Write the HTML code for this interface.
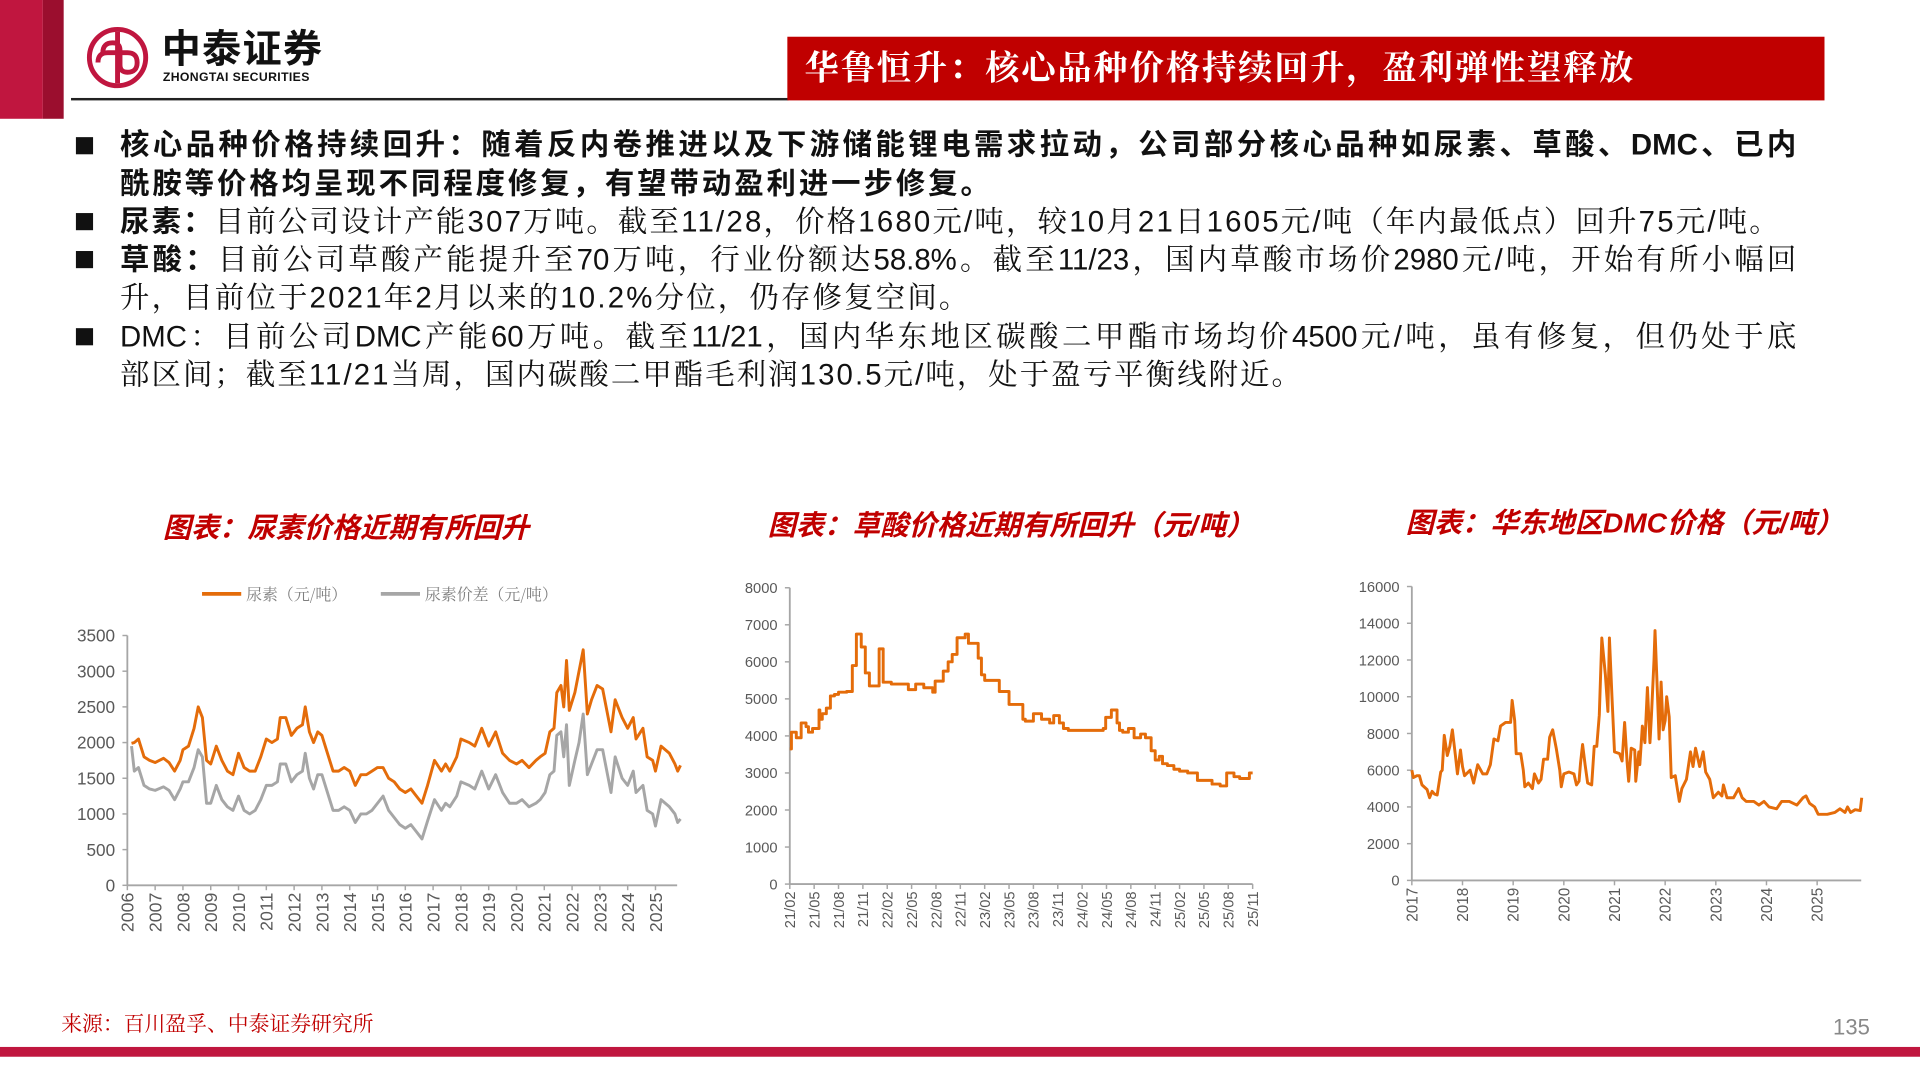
<!DOCTYPE html>
<html><head><meta charset="utf-8">
<style>
html,body{margin:0;padding:0;background:#fff;width:1920px;height:1080px;overflow:hidden}
#wrap{position:absolute;left:0;top:0;width:1568px;height:882px;transform:scale(1.22449);transform-origin:0 0;font-family:"Liberation Sans","Noto Sans CJK SC",sans-serif}
.abs{position:absolute}
.line{position:absolute;left:98px;width:1369px;font-size:24px;line-height:30px;white-space:nowrap;color:#111;font-family:"Liberation Sans","Noto Serif CJK SC",serif}
.j{text-align:justify;text-align-last:justify}
.b{font-family:"Liberation Sans","Noto Sans CJK SC",sans-serif;font-weight:bold}
.sq{position:absolute;left:62px;width:14px;height:14px;background:#111}
.ct{position:absolute;color:#c00000;font-weight:bold;font-style:italic;font-size:23px;white-space:nowrap;font-family:"Liberation Sans","Noto Sans CJK SC",sans-serif}
</style></head><body>
<div id="wrap">
<div class="abs" style="left:0;top:0;width:35px;height:97px;background:#c0163f"></div>
<div class="abs" style="left:35px;top:0;width:17px;height:97px;background:#9b0e2e"></div>
<svg class="abs" style="left:70px;top:21px" width="52" height="52" viewBox="0 0 52 52">
<circle cx="26" cy="26" r="23" fill="none" stroke="#c0163f" stroke-width="4"/>
<path d="M26 5 V47 M14 22 q0 -8 8 -8 q6 0 6 6 v12 q0 6 6 6 q8 0 8 -8 q0 -8 -8 -8 h-16 q-8 0 -8 8" fill="none" stroke="#c0163f" stroke-width="4"/>
</svg>
<div class="abs" style="left:132px;top:19px;font-size:32px;line-height:38px;font-weight:bold;color:#111;font-family:'Noto Sans CJK SC',sans-serif;letter-spacing:1px">中泰证券</div>
<div class="abs" style="left:133px;top:58px;font-size:10px;line-height:11px;font-weight:bold;color:#111;letter-spacing:0.3px">ZHONGTAI SECURITIES</div>
<div class="abs" style="left:58px;top:80px;width:586px;height:2px;background:#222"></div>
<div class="abs" style="left:643px;top:30px;width:847px;height:52px;background:#c00000;color:#fff;font-size:28px;font-weight:bold;line-height:52px;padding-left:14px;box-sizing:border-box;white-space:nowrap;font-family:'Liberation Sans','Noto Serif CJK SC',serif;letter-spacing:1.5px">华鲁恒升：核心品种价格持续回升，盈利弹性望释放</div>

<div class="sq" style="top:112px"></div>
<div class="line j b" style="top:104px">核心品种价格持续回升：随着反内卷推进以及下游储能锂电需求拉动，公司部分核心品种如尿素、草酸、DMC、已内</div>
<div class="line b" style="top:136px;letter-spacing:2.4px">酰胺等价格均呈现不同程度修复，有望带动盈利进一步修复。</div>
<div class="sq" style="top:174px"></div>
<div class="line" style="top:167px;letter-spacing:1.8px"><span class="b">尿素：</span>目前公司设计产能307万吨。截至11/28，价格1680元/吨，较10月21日1605元/吨（年内最低点）回升75元/吨。</div>
<div class="sq" style="top:205px"></div>
<div class="line j" style="top:198px"><span class="b">草酸：</span>目前公司草酸产能提升至70万吨，行业份额达58.8%。截至11/23，国内草酸市场价2980元/吨，开始有所小幅回</div>
<div class="line" style="top:229px;letter-spacing:1.8px">升，目前位于2021年2月以来的10.2%分位，仍存修复空间。</div>
<div class="sq" style="top:268px"></div>
<div class="line j" style="top:261px">DMC：目前公司DMC产能60万吨。截至11/21，国内华东地区碳酸二甲酯市场均价4500元/吨，虽有修复，但仍处于底</div>
<div class="line" style="top:292px;letter-spacing:1.7px">部区间；截至11/21当周，国内碳酸二甲酯毛利润130.5元/吨，处于盈亏平衡线附近。</div>

<div class="ct" style="left:133px;top:412px">图表：尿素价格近期有所回升</div>
<div class="ct" style="left:627px;top:410px">图表：草酸价格近期有所回升（元/吨）</div>
<div class="ct" style="left:1148px;top:408px">图表：华东地区DMC价格（元/吨）</div>

<svg id="charts" class="abs" style="left:0;top:0" width="1568" height="882"></svg>

<div class="abs" style="left:50px;top:822px;font-size:17px;color:#c00000;font-family:'Liberation Sans','Noto Serif CJK SC',serif">来源：百川盈孚、中泰证券研究所</div>
<div class="abs" style="left:1497px;top:829px;font-size:18px;color:#888">135</div>
<div class="abs" style="left:0;top:855px;width:1568px;height:8px;background:#c0163f"></div>
</div>
<script>
// Chart 1: urea
const ureaT=[2006.15,2006.25,2006.4,2006.6,2006.8,2007.0,2007.3,2007.5,2007.7,2007.9,2008.0,2008.2,2008.4,2008.55,2008.7,2008.85,2009.0,2009.2,2009.4,2009.6,2009.8,2010.0,2010.2,2010.4,2010.6,2010.8,2011.0,2011.2,2011.4,2011.5,2011.7,2011.9,2012.1,2012.3,2012.4,2012.55,2012.7,2012.85,2013.0,2013.2,2013.4,2013.6,2013.8,2014.0,2014.2,2014.4,2014.6,2014.8,2015.0,2015.2,2015.4,2015.6,2015.8,2016.0,2016.2,2016.4,2016.6,2016.8,2017.05,2017.3,2017.45,2017.6,2017.85,2018.0,2018.3,2018.5,2018.75,2019.0,2019.25,2019.5,2019.75,2020.0,2020.2,2020.45,2020.7,2020.85,2021.03,2021.2,2021.35,2021.45,2021.6,2021.7,2021.8,2021.9,2022.1,2022.25,2022.4,2022.55,2022.7,2022.9,2023.1,2023.4,2023.55,2023.8,2024.0,2024.2,2024.3,2024.55,2024.7,2024.9,2025.0,2025.2,2025.5,2025.7,2025.8,2025.9];
const ureaPrice=[1990,2000,2050,1800,1750,1720,1780,1720,1600,1750,1900,1950,2200,2500,2350,1750,1700,1950,1750,1600,1550,1850,1650,1600,1600,1800,2050,2000,2050,2350,2350,2100,2200,2250,2500,2150,2000,2150,2100,1850,1600,1600,1650,1600,1400,1550,1550,1600,1650,1650,1500,1450,1350,1300,1350,1250,1150,1400,1750,1600,1700,1600,1800,2050,2000,1950,2200,1950,2150,1850,1750,1700,1750,1650,1750,1800,1850,2150,2200,2700,2800,2500,3150,2450,2700,3000,3300,2400,2600,2800,2750,2150,2600,2350,2200,2350,2050,2200,1800,1750,1600,1950,1850,1700,1600,1680];
const ureaSpread=[1950,1600,1650,1400,1350,1330,1380,1330,1200,1350,1450,1450,1650,1900,1800,1150,1150,1400,1200,1100,1050,1250,1050,1000,1050,1200,1400,1400,1450,1700,1700,1450,1550,1600,1850,1500,1350,1550,1550,1300,1050,1050,1100,1050,880,1000,1000,1050,1150,1250,1050,950,850,800,850,750,650,900,1200,1050,1150,1100,1250,1450,1400,1350,1600,1350,1550,1300,1150,1150,1200,1100,1150,1200,1300,1550,1600,2100,2150,1800,2250,1400,1750,2000,2400,1550,1700,1900,1900,1300,1800,1500,1400,1600,1300,1400,1050,1000,830,1200,1100,1000,880,930];
const ureaYTicks=[0,500,1000,1500,2000,2500,3000,3500];
const ureaXLabels=["2006","2007","2008","2009","2010","2011","2012","2013","2014","2015","2016","2017","2018","2019","2020","2021","2022","2023","2024","2025"];
// Chart 2: oxalic acid (months since 2021/02), step line
const oxM=[0,0.2,0.8,1.4,2,2.3,2.8,3.6,3.7,4,4.5,5,5.5,6,7,7.7,8.2,8.8,9.3,9.8,11,11.5,12.5,14.6,15.5,16.5,17.6,17.9,18.9,19.5,20,20.6,21.6,22,23.2,23.6,24,25.8,27,28.7,29,30,31,32,32.5,33.2,33.7,34.3,38.6,38.9,39.6,40.3,40.6,41,41.7,42.4,43.2,43.8,44.5,45,45.5,45.9,46.5,47.3,48,49,50.2,52,53,53.8,54.7,55.4,56.6,57];
const oxPrice=[3650,4100,3950,4350,4250,4100,4200,4700,4450,4600,4750,5080,5120,5180,5200,5900,6750,6400,5700,5350,6350,5450,5400,5250,5400,5300,5180,5480,5750,6000,6200,6650,6750,6500,6100,5650,5500,5200,4850,4450,4400,4600,4450,4350,4550,4350,4200,4150,4200,4500,4700,4350,4150,4100,4200,3950,4050,3950,3600,3350,3450,3250,3200,3100,3050,3000,2800,2700,2650,3000,2900,2850,3000,3000];
const oxYTicks=[0,1000,2000,3000,4000,5000,6000,7000,8000];
const oxXLabels=["21/02","21/05","21/08","21/11","22/02","22/05","22/08","22/11","23/02","23/05","23/08","23/11","24/02","24/05","24/08","24/11","25/02","25/05","25/08","25/11"];
// Chart 3: DMC (years since 2017)
const dmcT=[0,0.03,0.1,0.15,0.2,0.3,0.35,0.4,0.45,0.5,0.57,0.6,0.64,0.7,0.75,0.8,0.86,0.9,0.96,1.0,1.04,1.15,1.22,1.3,1.4,1.48,1.55,1.62,1.7,1.75,1.85,1.95,1.98,2.03,2.06,2.15,2.2,2.23,2.3,2.38,2.42,2.5,2.55,2.6,2.68,2.72,2.78,2.85,2.92,2.95,3.0,3.1,3.2,3.25,3.3,3.33,3.37,3.42,3.47,3.55,3.6,3.65,3.7,3.75,3.82,3.87,3.9,3.95,4.0,4.1,4.15,4.2,4.25,4.28,4.33,4.4,4.42,4.48,4.5,4.55,4.6,4.65,4.7,4.73,4.78,4.8,4.85,4.88,4.92,4.96,5.0,5.03,5.08,5.12,5.2,5.28,5.33,5.42,5.5,5.55,5.6,5.68,5.75,5.8,5.88,5.95,6.05,6.12,6.15,6.22,6.35,6.45,6.52,6.6,6.75,6.85,6.95,7.05,7.2,7.3,7.45,7.6,7.72,7.78,7.85,7.95,8.02,8.2,8.35,8.45,8.55,8.6,8.66,8.75,8.85,8.88];
const dmcPrice=[6000,5600,5700,5700,5200,4950,4500,4850,4700,4650,5900,6000,7900,6800,7300,8200,6800,5800,7100,6200,5700,6000,5300,6300,5800,5800,6300,7700,7600,8400,8600,8600,9800,8700,6900,6900,6000,5100,5300,5000,5800,5300,5500,6600,6600,7800,8200,7200,6000,5100,5800,5900,5800,5200,5400,6400,7400,6300,5300,5200,7300,7300,9000,13200,11200,9200,13200,10000,7000,6900,6500,8600,6400,5400,7200,7100,5400,7000,6300,8400,7500,10500,7500,9000,12000,13600,10000,7700,10800,8200,8700,10000,8900,5600,5700,4300,5000,5500,7000,6200,7200,6200,7000,5900,5500,4500,4800,4600,5200,4500,4500,5000,4500,4300,4300,4100,4300,4000,3900,4300,4300,4100,4500,4600,4200,4000,3600,3600,3700,3900,3700,4000,3700,3850,3800,4500];
const dmcYTicks=[0,2000,4000,6000,8000,10000,12000,14000,16000];
const dmcXLabels=["2017","2018","2019","2020","2021","2022","2023","2024","2025"];

const NS='http://www.w3.org/2000/svg';
const svg=document.getElementById('charts');
function mk(tag,attrs,parent){const e=document.createElementNS(NS,tag);for(const k in attrs)e.setAttribute(k,attrs[k]);(parent||svg).appendChild(e);return e;}
const AX='#a6a6a6',TX='#595959',OR='#e46c0a';

function axes(o,yTicks,fs,name){
  const g=mk('g',{});
  
  
  mk('line',{x1:o.x0,y1:o.y0,x2:o.x0,y2:o.y1,stroke:AX,'stroke-width':1.5},g);
  mk('line',{x1:o.x0,y1:o.y0,x2:o.x1,y2:o.y0,stroke:AX,'stroke-width':1.5},g);
  yTicks.forEach(v=>{const y=o.sy(v);
    mk('line',{x1:o.x0-4,y1:y,x2:o.x0,y2:y,stroke:AX,'stroke-width':1.2},g);
    const t=mk('text',{x:o.x0-10,y:y+fs*0.36,'text-anchor':'end','font-size':fs,fill:TX,'font-family':'Liberation Sans, sans-serif'},g);
    
    
    t.textContent=v;});
  return g;
}
function xlabels(g,labels,posFn,o,fs,name){
  labels.forEach((l,i)=>{const x=posFn(i);
    mk('line',{x1:x,y1:o.y0,x2:x,y2:o.y0+4,stroke:AX,'stroke-width':1.2},g);
    const t=mk('text',{x:0,y:0,transform:`translate(${x+fs*0.36},${o.y0+6}) rotate(-90)`,'text-anchor':'end','font-size':fs,fill:TX,'font-family':'Liberation Sans, sans-serif'},g);
    
    
    t.textContent=l;});
}
function path(xs,ys,sx,sy,color,step,name){
  let d='';
  for(let i=0;i<xs.length;i++){const X=sx(xs[i]),Y=sy(ys[i]);
    if(i===0)d='M'+X+' '+Y;else if(step){d+=' H'+X+' V'+Y;}else d+=' L'+X+' '+Y;}
  const p=mk('path',{d:d,fill:'none',stroke:color,'stroke-width':2.4,'stroke-linejoin':'round'});
  
  
}

// chart 1
(function(){
  const o={x0:104,x1:553,y0:723,y1:519};
  o.sx=t=>o.x0+(t-2006)*22.7; o.sy=v=>o.y0-(v/3500)*(o.y0-o.y1);
  const g=axes(o,ureaYTicks,14,'chart1');
  xlabels(g,ureaXLabels,i=>o.x0+i*22.7,o,14.5,'chart1');
  path(ureaT,ureaSpread,o.sx,o.sy,'#a6a6a6',false,'urea-spread-line');
  path(ureaT,ureaPrice,o.sx,o.sy,OR,false,'urea-price-line');
  const l1=mk('line',{x1:165,y1:485,x2:197,y2:485,stroke:OR,'stroke-width':3});
  
  
  const t1=mk('text',{x:201,y:490,'font-size':13,fill:'#7f7f7f','font-family':'Noto Serif CJK SC, serif'});
  
  
  t1.textContent='尿素（元/吨）';
  const l2=mk('line',{x1:311,y1:485,x2:343,y2:485,stroke:'#a6a6a6','stroke-width':3});
  
  
  const t2=mk('text',{x:347,y:490,'font-size':13,fill:'#7f7f7f','font-family':'Noto Serif CJK SC, serif'});
  
  
  t2.textContent='尿素价差（元/吨）';
})();
// chart 2
(function(){
  const o={x0:645,x1:1023,y0:722,y1:480};
  const pm=(1023-645)/57;
  o.sx=m=>o.x0+m*pm; o.sy=v=>o.y0-(v/8000)*(o.y0-o.y1);
  const g=axes(o,oxYTicks,12,'chart2');
  xlabels(g,oxXLabels,i=>o.x0+i*3*pm,o,12,'chart2');
  path(oxM,oxPrice,o.sx,o.sy,OR,true,'oxalic-price-line');
})();
// chart 3
(function(){
  const o={x0:1153,x1:1520,y0:719,y1:479};
  const py=(1484-1153)/8;
  o.sx=t=>o.x0+t*py; o.sy=v=>o.y0-(v/16000)*(o.y0-o.y1);
  const g=axes(o,dmcYTicks,12,'chart3');
  xlabels(g,dmcXLabels,i=>o.x0+i*py,o,12.5,'chart3');
  path(dmcT,dmcPrice,o.sx,o.sy,OR,false,'dmc-price-line');
})();
</script>
</body></html>
